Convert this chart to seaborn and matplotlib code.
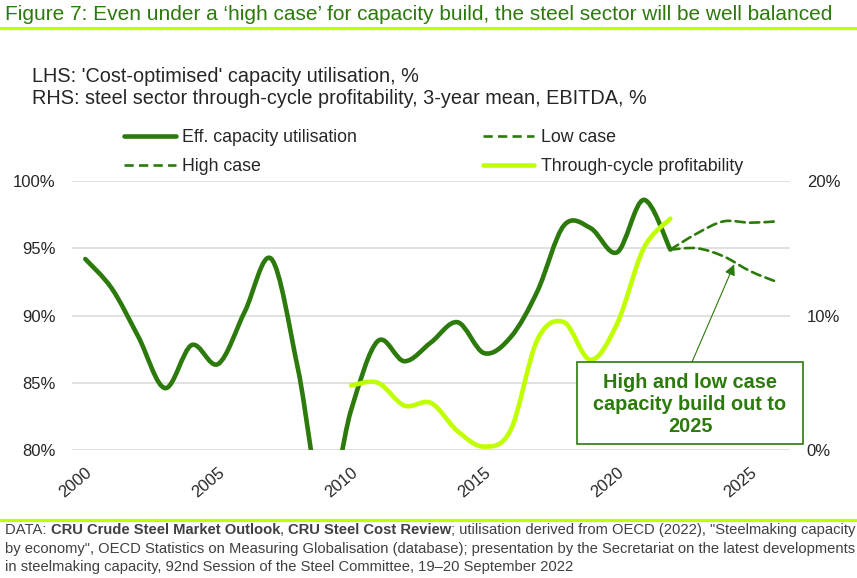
import matplotlib
matplotlib.use('Agg')
import matplotlib.pyplot as plt
from matplotlib.path import Path
from matplotlib.patches import PathPatch, Rectangle
from matplotlib.lines import Line2D
import numpy as np
import seaborn as sns

# values
years = list(range(2000, 2023))
utilisation = [94.2, 92.0, 88.4, 84.6, 87.8, 86.4, 90.3, 94.2, 86.0, 75.5,
               83.0, 88.1, 86.6, 88.0, 89.5, 87.2, 88.4, 91.8, 96.7, 96.5,
               94.7, 98.6, 94.9]
profit_years = list(range(2010, 2023))
profitability = [4.8, 5.0, 3.3, 3.5, 1.4, 0.25, 1.5, 8.2, 9.5, 6.7, 9.4, 15.0, 17.2]
case_years = list(range(2022, 2027))
low_case = [94.9, 96.1, 97.0, 96.9, 97.0]
high_case = [94.9, 95.0, 94.4, 93.3, 92.5]
left_ticks = [80, 85, 90, 95, 100]
right_ticks = [0, 10, 20]
x_ticks = [2000, 2005, 2010, 2015, 2020, 2025]

DARK = '#2b7a0b'
LIME = '#bfff00'
GRID = '#d9d9d9'
FOOT = '#404040'

sns.set_style('white')
plt.rcParams['font.family'] = ['Liberation Sans', 'DejaVu Sans']


def smooth_path(xs, ys):
    # excel style smoothed line: bezier segments through every point
    p = np.column_stack([xs, ys]).astype(float)
    n = len(p)
    verts = [p[0]]
    codes = [Path.MOVETO]
    for i in range(n - 1):
        p0 = p[max(i - 1, 0)]
        p1, p2 = p[i], p[i + 1]
        p3 = p[min(i + 2, n - 1)]
        verts += [p1 + (p2 - p0) / 6, p2 - (p3 - p1) / 6, p2]
        codes += [Path.CURVE4] * 3
    return Path(verts, codes)


def add_line(axis, xs, ys, color, lw, ls='-', z=3):
    patch = PathPatch(smooth_path(xs, ys), facecolor='none', edgecolor=color,
                      lw=lw, linestyle=ls, capstyle='round', joinstyle='round',
                      zorder=z)
    axis.add_patch(patch)


W, H = 857, 578
fig = plt.figure(figsize=(W / 100, H / 100), dpi=100)
ax = fig.add_axes([72 / W, 1 - 450 / H, (790 - 72) / W, (450 - 181) / H])
ax2 = ax.twinx()

ax.set_xlim(1999.5, 2026.5)
ax.set_ylim(80, 100)
ax2.set_ylim(0, 20)

add_line(ax, years, utilisation, DARK, 3.3)
add_line(ax, case_years, low_case, DARK, 1.9, ls=(0, (3.5, 2)))
add_line(ax, case_years, high_case, DARK, 1.9, ls=(0, (3.5, 2)))
add_line(ax2, profit_years, profitability, LIME, 3.3)

ax.set_yticks(left_ticks, labels=[f'{v}%' for v in left_ticks])
ax2.set_yticks(right_ticks, labels=[f'{v}%' for v in right_ticks])
ax.set_xticks(x_ticks, labels=[str(v) for v in x_ticks])
ax.grid(axis='y', color=GRID, lw=1.1)
ax.grid(axis='x', visible=False)
ax.set_axisbelow(True)
ax.tick_params(axis='y', length=0, pad=12, labelsize=12)
ax2.tick_params(axis='y', length=0, pad=12, labelsize=12)
ax.tick_params(axis='x', length=0, pad=11, labelsize=12)
plt.setp(ax.get_xticklabels(), rotation=40, ha='right', va='top',
         rotation_mode='anchor')
for a in (ax, ax2):
    for s in a.spines.values():
        s.set_visible(False)

# annotation box + arrow
ax2.add_patch(Rectangle((0.703, 0.022), 0.315, 0.305, transform=ax.transAxes,
                        facecolor='white', edgecolor=DARK, lw=1.2,
                        clip_on=False, zorder=10))
ax2.text(0.8607, 0.169, 'High and low case\ncapacity build out to\n2025',
         transform=ax.transAxes, ha='center', va='center', fontsize=14.3,
         fontweight='bold', color=DARK, linespacing=1.18, zorder=11)
ax2.annotate('', xy=(2024.4, 93.8), xycoords=ax.transData,
             xytext=(0.8635, 0.327), textcoords=ax.transAxes,
             arrowprops=dict(arrowstyle='-|>', color=DARK, lw=0.8,
                             mutation_scale=16, shrinkA=0, shrinkB=0),
             zorder=11)

# legend
handles = [
    Line2D([], [], color=DARK, lw=3.3, solid_capstyle='round'),
    Line2D([], [], color=DARK, lw=1.9, ls=(0, (3.5, 2))),
    Line2D([], [], color=DARK, lw=1.9, ls=(0, (3.5, 2))),
    Line2D([], [], color=LIME, lw=3.3, solid_capstyle='round'),
]
labels = ['Eff. capacity utilisation', 'High case', 'Low case',
          'Through-cycle profitability']
fig.legend(handles, labels, ncol=2, loc='upper left',
           bbox_to_anchor=(124 / W, 1 - 129 / H), frameon=False,
           fontsize=12.8, handlelength=2.9, handletextpad=0.35,
           columnspacing=7.1, labelspacing=0.67, borderpad=0,
           borderaxespad=0)

# title, subtitles, rules
fig.text(5 / W, 1 - 20 / H,
         'Figure 7: Even under a \u2018high case\u2019 for capacity build, '
         'the steel sector will be well balanced',
         fontsize=15.0, color=DARK, va='baseline', ha='left')
fig.add_artist(Line2D([0, 1], [1 - 27.5 / H] * 2, color=LIME, lw=2.3,
                      transform=fig.transFigure))
fig.text(32 / W, 1 - 76 / H, "LHS: 'Cost-optimised' capacity utilisation, %",
         fontsize=14.3, va='center')
fig.text(32 / W, 1 - 99 / H,
         'RHS: steel sector through-cycle profitability, 3-year mean, EBITDA, %',
         fontsize=14.3, va='center')
fig.add_artist(Line2D([0, 1], [1 - 519.5 / H] * 2, color=LIME, lw=2.3,
                      transform=fig.transFigure))

# source note with bold pieces
renderer = fig.canvas.get_renderer()
pieces = [('DATA: ', 'normal'), ('CRU Crude Steel Market Outlook', 'bold'),
          (', ', 'normal'), ('CRU Steel Cost Review', 'bold'),
          ('; utilisation derived from OECD (2022), "Steelmaking capacity', 'normal')]
x = 5
for txt, wt in pieces:
    t = fig.text(x / W, 1 - 530 / H, txt, fontsize=10.6, fontweight=wt,
                 color=FOOT, va='center', ha='left')
    x = t.get_window_extent(renderer).x1
fig.text(5 / W, 1 - 549 / H,
         'by economy", OECD Statistics on Measuring Globalisation (database); '
         'presentation by the Secretariat on the latest developments',
         fontsize=10.6, color=FOOT, va='center')
fig.text(5 / W, 1 - 567 / H,
         'in steelmaking capacity, 92nd Session of the Steel Committee, '
         '19\u201320 September 2022',
         fontsize=10.6, color=FOOT, va='center')

fig.savefig('out.png', dpi=100)
